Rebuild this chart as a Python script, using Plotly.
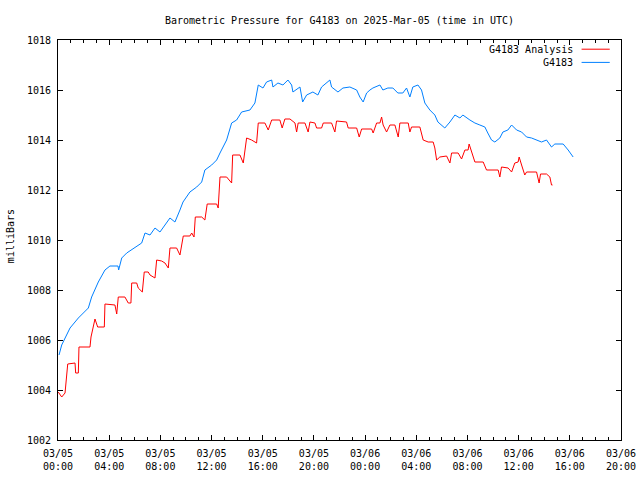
import pandas as pd
import plotly.graph_objects as go

START = pd.Timestamp("2025-03-05 00:00")

# Observed station pressure (G4183), hours since start / mbar
obs_hours = [0.08, 0.29, 0.94, 1.59, 2.37, 2.63, 3.15, 3.67, 4.06, 4.69, 4.74, 4.98, 5.37, 6.02, 6.54,
             6.80, 7.19, 7.58, 7.97, 8.75, 9.14, 9.53, 9.77, 10.31, 10.84, 11.23, 11.48, 12.01, 12.40,
             12.66, 13.18, 13.57, 13.96, 14.35, 15.00, 15.39, 15.65, 16.02, 16.30, 16.70, 16.80, 17.19,
             17.58, 17.97, 18.26, 18.36, 18.91, 19.12, 19.43, 19.92, 20.31, 20.60, 21.25, 21.38, 21.88,
             22.27, 22.81, 23.34, 23.59, 23.85, 24.12, 24.38, 24.61, 25.16, 25.39, 25.78, 26.17, 26.56,
             26.95, 27.24, 27.50, 27.73, 28.13, 28.41, 28.67, 29.06, 29.45, 29.69, 29.98, 30.23, 30.63,
             31.02, 31.41, 31.64, 32.19, 32.58, 32.97, 33.36, 33.59, 33.88, 34.14, 34.53, 34.77, 35.16,
             35.45, 35.84, 36.23, 36.62, 37.01, 37.40, 37.79, 38.18, 38.57, 38.83, 39.48, 39.87, 40.26]
obs_mbar = [1005.40, 1005.80, 1006.48, 1006.88, 1007.28, 1007.72, 1008.32, 1008.80, 1008.96, 1008.96,
            1008.80, 1009.28, 1009.48, 1009.72, 1009.88, 1010.28, 1010.20, 1010.48, 1010.32, 1010.88,
            1010.72, 1011.20, 1011.52, 1011.92, 1012.12, 1012.32, 1012.80, 1013.00, 1013.20, 1013.48,
            1014.00, 1014.68, 1014.80, 1015.12, 1015.20, 1015.48, 1016.20, 1016.08, 1016.32, 1016.40,
            1016.12, 1016.28, 1016.20, 1016.40, 1016.20, 1015.92, 1016.12, 1015.52, 1015.80, 1015.92,
            1015.80, 1016.12, 1016.40, 1016.12, 1015.92, 1016.08, 1016.12, 1016.00, 1015.72, 1015.52,
            1015.88, 1016.00, 1016.08, 1016.20, 1016.00, 1016.08, 1016.08, 1015.88, 1015.88, 1016.08,
            1015.72, 1016.12, 1016.20, 1016.00, 1015.48, 1015.20, 1015.00, 1014.72, 1014.60, 1014.48,
            1014.72, 1015.00, 1014.88, 1015.00, 1014.80, 1014.68, 1014.60, 1014.52, 1014.28, 1014.00,
            1013.92, 1014.08, 1014.32, 1014.40, 1014.60, 1014.40, 1014.32, 1014.12, 1014.08, 1014.00,
            1013.92, 1014.00, 1013.72, 1013.84, 1013.84, 1013.60, 1013.32]

# Analysis pressure (G4183 Analysis), hours since start / mbar
ana_hours = [0.02, 0.29, 0.55, 0.68, 0.76, 1.33, 1.38, 1.59, 1.64, 2.50, 2.58, 2.89, 3.10, 3.62, 3.67,
             4.45, 4.59, 4.71, 5.23, 5.49, 5.70, 5.76, 6.15, 6.27, 6.59, 6.74, 7.05, 7.19, 7.58, 7.71,
             8.10, 8.36, 8.62, 8.75, 9.27, 9.53, 9.79, 10.31, 10.45, 10.63, 10.73, 11.23, 11.48, 11.66,
             12.40, 12.52, 12.66, 13.18, 13.57, 13.65, 14.22, 14.48, 14.74, 15.13, 15.52, 15.65, 16.17,
             16.43, 16.70, 17.34, 17.52, 17.73, 18.13, 18.52, 18.65, 18.77, 19.30, 19.55, 19.69, 20.08,
             20.21, 20.60, 20.73, 21.38, 21.64, 21.77, 22.55, 22.68, 23.34, 23.54, 23.73, 24.51, 24.63,
             24.90, 25.16, 25.29, 25.41, 25.68, 25.94, 26.33, 26.59, 26.72, 27.37, 27.50, 27.63, 28.28,
             28.54, 28.93, 29.32, 29.45, 29.59, 29.84, 30.37, 30.63, 30.76, 31.27, 31.54, 31.80, 32.05,
             32.13, 32.32, 32.58, 33.23, 33.49, 34.40, 34.53, 34.66, 35.18, 35.45, 35.70, 35.96, 36.04,
             36.23, 36.48, 36.62, 37.40, 37.60, 37.71, 38.18, 38.44, 38.57, 38.65]
ana_mbar = [1003.92, 1003.72, 1003.88, 1004.72, 1005.04, 1005.08, 1004.68, 1004.68, 1005.72, 1005.72,
            1006.12, 1006.84, 1006.52, 1006.52, 1007.44, 1007.40, 1007.04, 1007.72, 1007.72, 1007.48,
            1007.48, 1008.28, 1008.28, 1008.08, 1007.92, 1008.72, 1008.72, 1008.60, 1008.48, 1009.20,
            1009.16, 1009.08, 1008.88, 1009.68, 1009.68, 1009.40, 1010.16, 1010.16, 1010.28, 1010.12,
            1010.92, 1010.92, 1010.80, 1011.44, 1011.44, 1011.28, 1012.52, 1012.52, 1012.28, 1013.40,
            1013.40, 1013.08, 1014.08, 1014.00, 1013.88, 1014.68, 1014.68, 1014.40, 1014.80, 1014.80,
            1014.48, 1014.84, 1014.84, 1014.68, 1014.32, 1014.68, 1014.68, 1014.32, 1014.72, 1014.68,
            1014.48, 1014.48, 1014.68, 1014.68, 1014.32, 1014.76, 1014.72, 1014.48, 1014.48, 1014.12,
            1014.44, 1014.44, 1014.28, 1014.68, 1014.68, 1014.92, 1014.60, 1014.32, 1014.60, 1014.60,
            1014.12, 1014.68, 1014.68, 1014.32, 1014.52, 1014.52, 1014.00, 1013.92, 1013.92, 1013.68,
            1013.20, 1013.32, 1013.36, 1013.08, 1013.48, 1013.48, 1013.24, 1013.60, 1013.60, 1013.84,
            1013.52, 1013.12, 1013.12, 1012.80, 1012.80, 1012.52, 1012.92, 1012.88, 1012.72, 1013.08,
            1013.12, 1013.32, 1013.00, 1012.60, 1012.72, 1012.72, 1012.28, 1012.64, 1012.64, 1012.52,
            1012.20, 1012.20]

tick_hours = [0, 4, 8, 12, 16, 20, 24, 28, 32, 36, 40, 44]
tick_labels = ["03/05<br>00:00", "03/05<br>04:00", "03/05<br>08:00", "03/05<br>12:00",
               "03/05<br>16:00", "03/05<br>20:00", "03/06<br>00:00", "03/06<br>04:00",
               "03/06<br>08:00", "03/06<br>12:00", "03/06<br>16:00", "03/06<br>20:00"]
y_ticks = [1002, 1004, 1006, 1008, 1010, 1012, 1014, 1016, 1018]

series_names = ["G4183 Analysis", "G4183"]
series_colors = ["#ff0000", "#0080ff"]


def to_time(hours):
    return [START + pd.Timedelta(hours=h) for h in hours]


FONT = "DejaVu Sans Mono"

fig = go.Figure()
fig.add_trace(go.Scatter(x=to_time(ana_hours), y=ana_mbar, mode="lines",
                         line=dict(color=series_colors[0], width=1), name=series_names[0]))
fig.add_trace(go.Scatter(x=to_time(obs_hours), y=obs_mbar, mode="lines",
                         line=dict(color=series_colors[1], width=1), name=series_names[1]))

axis_common = dict(showline=True, linecolor="black", linewidth=1, mirror="allticks",
                   ticks="inside", ticklen=5, tickcolor="black", showgrid=False, zeroline=False,
                   automargin=False,
                   tickfont=dict(family=FONT, size=10, color="black"))

fig.update_xaxes(range=[START, START + pd.Timedelta(hours=44)],
                 tickmode="array", tickvals=to_time(tick_hours), ticktext=tick_labels,
                 ticklabelstandoff=4,
                 minor=dict(ticks="inside", ticklen=3, tickcolor="black",
                            tickmode="array", tickvals=to_time(list(range(0, 45)))),
                 **axis_common)
fig.update_yaxes(range=[1002, 1018], tickmode="array", tickvals=y_ticks,
                 ticktext=[str(v) for v in y_ticks], ticklabelstandoff=4, **axis_common)

# gnuplot-style key: text on the left, line sample on the right
key_y = [0.977, 0.944]
for name, color, ky in zip(series_names, series_colors, key_y):
    fig.add_annotation(x=0.918, y=ky, xref="paper", yref="paper", text=name, showarrow=False,
                       xanchor="right", yanchor="middle", font=dict(family=FONT, size=10, color="black"))
    fig.add_shape(type="line", xref="paper", yref="paper", x0=0.930, x1=0.980, y0=ky, y1=ky,
                  line=dict(color=color, width=1))

fig.add_annotation(x=-0.085, y=0.51, xref="paper", yref="paper", text="milliBars", textangle=-90,
                   showarrow=False, xanchor="center", yanchor="middle",
                   font=dict(family=FONT, size=10, color="black"))

fig.update_layout(
    width=640, height=480,
    margin=dict(l=58, r=19, t=40, b=40, autoexpand=False),
    paper_bgcolor="white", plot_bgcolor="white",
    showlegend=False,
    title=dict(text="Barometric Pressure for G4183 on 2025-Mar-05 (time in UTC)",
               x=0.5, xref="paper", xanchor="center", y=1 - 20 / 480, yanchor="middle",
               automargin=False,
               font=dict(family=FONT, size=10, color="black")),
)

fig.write_html("out.html", config={"displayModeBar": False},
               post_script="document.body.style.margin='0';document.body.style.overflow='hidden';")
